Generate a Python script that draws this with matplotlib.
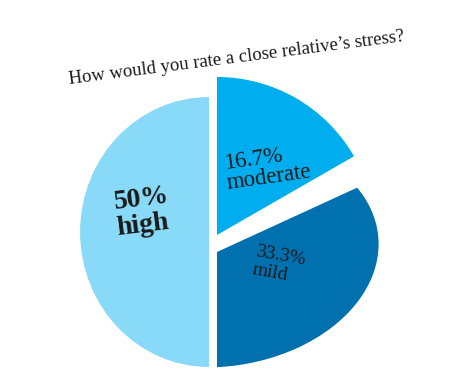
import matplotlib
matplotlib.use("Agg")
import matplotlib.pyplot as plt
from matplotlib.transforms import Affine2D

# data
categories = ['moderate', 'mild', 'high']
shares = [16.7, 33.3, 50.0]
colors = ['#00ADEF', '#0071AE', '#89D9F8']
title = 'How would you rate a close relative\u2019s stress?'

# layout of the exploded slices (axes units = pixels, y up)
slice_center = [(217, 141), (217, 124), (209, 144)]
slice_radius = [158, 160, 135]
# 2x2 linear map applied around each slice's centre (squash / shear)
slice_matrix = [((1.0, 0.0), (0.0, 1.0)),
                ((1.01, 0.0), (0.05, 0.72)),
                ((0.955, 0.0), (0.0, 1.0))]

# label boxes: centre, rotation, size, weight, line spacing
label_pos = [(268, 208), (279, 111), (143, 164)]
label_rot = [8, -10, 7]
label_size = [16.5, 14, 20]
label_weight = ['normal', 'normal', 'bold']
label_spacing = [0.95, 1.15, 1.05]

plt.rcParams['font.family'] = ['Liberation Serif', 'DejaVu Serif']

fig = plt.figure(figsize=(4.56, 3.76), dpi=100)
ax = fig.add_axes([0, 0, 1, 1])

wedges, _ = ax.pie(shares, colors=colors, startangle=90, counterclock=False,
                   wedgeprops=dict(linewidth=0))

for w, c, r, m in zip(wedges, slice_center, slice_radius, slice_matrix):
    w.set_center(c)
    w.set_radius(r)
    (a, b), (cc, d) = m
    lin = Affine2D([[a, b, 0], [cc, d, 0], [0, 0, 1]])
    tr = Affine2D().translate(-c[0], -c[1]) + lin + Affine2D().translate(c[0], c[1])
    w.set_transform(tr + ax.transData)

ax.set_xlim(0, 456)
ax.set_ylim(0, 376)
ax.set_aspect('equal')
ax.axis('off')

for cat, v, pos, rot, fs, fw, ls in zip(categories, shares, label_pos, label_rot,
                                        label_size, label_weight, label_spacing):
    ax.text(pos[0], pos[1], f'{v:g}%\n{cat}', ha='center', va='center',
            rotation=rot, fontsize=fs, fontweight=fw, linespacing=ls,
            multialignment='left', color='#1a1a1a')

ax.text(237, 318, title, ha='center', va='center', rotation=7.3,
        fontsize=13.5, color='#1a1a1a')

fig.savefig('out.png', dpi=100)
